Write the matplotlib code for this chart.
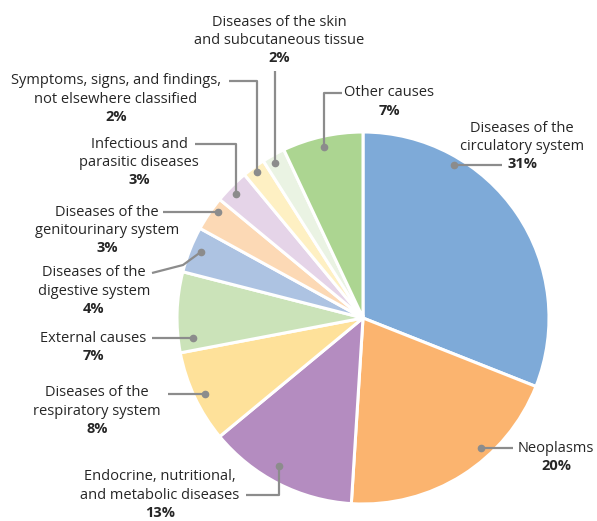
import numpy as np
import matplotlib
matplotlib.use("Agg")
import matplotlib.pyplot as plt

# ---- data ----
categories = [
    "Diseases of the\ncirculatory system",
    "Neoplasms",
    "Endocrine, nutritional,\nand metabolic diseases",
    "Diseases of the\nrespiratory system",
    "External causes",
    "Diseases of the\ndigestive system",
    "Diseases of the\ngenitourinary system",
    "Infectious and\nparasitic diseases",
    "Symptoms, signs, and findings,\nnot elsewhere classified",
    "Diseases of the skin\nand subcutaneous tissue",
    "Other causes",
]
values = [31, 20, 13, 8, 7, 4, 3, 3, 2, 2, 7]
colors = ["#7EAAD8", "#FBB46F", "#B48CC0", "#FEE19A", "#CBE3B9", "#ADC3E2",
          "#FCD9B5", "#E5D4E8", "#FEF0C3", "#EAF3E3", "#ACD591"]

# ---- layout (pixel space, y downward) ----
W, H = 597, 521
CX, CY, R = 363, 318, 186
# label block: (x center, y of first line)
label_pos = [(522, 128), (556, 448), (160, 477), (97, 393), (93, 338), (94, 273),
             (107, 212), (139, 144), (116, 81), (279, 22), (389, 93)]
# leader dot: angle (deg, math convention) and radius in px
dot_polar = [(59.3, 178), (-47.8, 175), (-119.6, 170), (205.7, 175), (186.7, 171),
             (157.8, 175), (143.8, 180), (135.7, 177), (126, 180), (119.6, 178), (102.8, 175)]
# leader paths after the dot
leader_paths = [
    [("h", 502)],
    [("h", 513)],
    [("v", 495), ("h", 246)],
    [("h", 168)],
    [("h", 152)],
    [("p", 183, 265), ("p", 152, 273)],
    [("h", 163)],
    [("v", 144), ("h", 195)],
    [("v", 81), ("h", 229)],
    [("v", 71)],
    [("v", 93), ("h", 342)],
]
LS = 18.1

plt.rcParams['font.family'] = ['Open Sans', 'DejaVu Sans']
fig = plt.figure(figsize=(W / 100, H / 100), dpi=100)
ax = fig.add_axes([0, 0, 1, 1])

def fy(y):
    return H - y

ax.pie(values, colors=colors, startangle=90, counterclock=False,
       center=(CX, fy(CY)), radius=R,
       wedgeprops=dict(edgecolor='white', linewidth=2.2), frame=True)
ax.set_xlim(0, W)
ax.set_ylim(0, H)
ax.set_aspect('equal')
ax.axis('off')

TXT = '#262626'
LINE = '#8c8c8c'
FS = 10.5

for i, name in enumerate(categories):
    ang, rr = dot_polar[i]
    dx = CX + rr * np.cos(np.radians(ang))
    dy = CY - rr * np.sin(np.radians(ang))
    xs, ys = [dx], [dy]
    for step in leader_paths[i]:
        if step[0] == 'h':
            xs.append(step[1]); ys.append(ys[-1])
        elif step[0] == 'v':
            xs.append(xs[-1]); ys.append(step[1])
        else:
            xs.append(step[1]); ys.append(step[2])
    ax.plot(xs, [fy(v) for v in ys], color=LINE, lw=1.6, solid_capstyle='butt', zorder=5)
    ax.plot([dx], [fy(dy)], 'o', color=LINE, ms=4.5, zorder=6)

    lx, ly = label_pos[i]
    lines = name.split("\n")
    for k, ln in enumerate(lines):
        ax.text(lx, fy(ly + k * LS), ln, ha='center', va='center',
                fontsize=FS, color=TXT)
    ax.text(lx, fy(ly + len(lines) * LS), f"{values[i]}%", ha='center', va='center',
            fontsize=FS, color=TXT, fontweight='bold')

fig.savefig("out.png", dpi=100)
